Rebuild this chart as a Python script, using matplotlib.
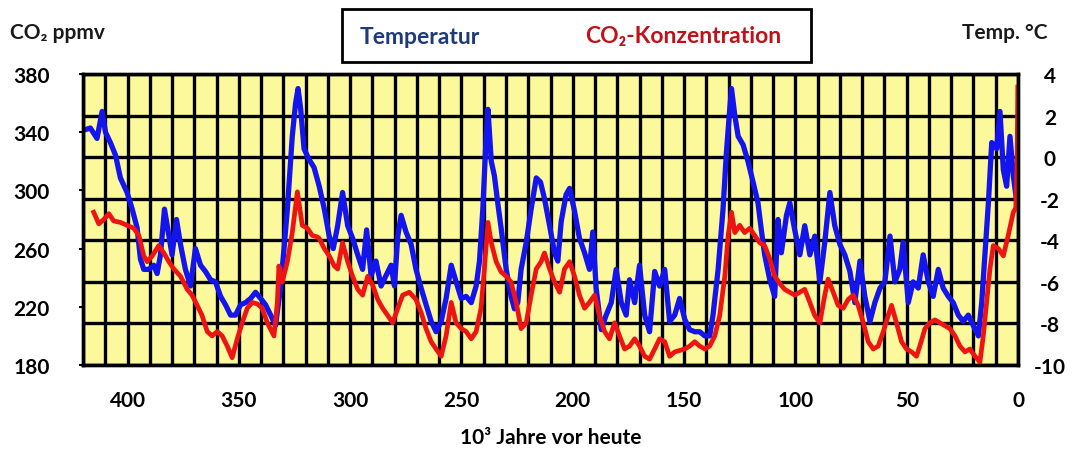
import matplotlib
matplotlib.use("Agg")
import matplotlib.pyplot as plt
from matplotlib.ticker import MultipleLocator
from matplotlib.patches import Rectangle

# ---- data ----
age_temp = [419.7, 416.7, 413.7, 411.4, 409.9, 407.7, 405.4, 403.2, 400.2, 397.9,
            395.7, 394.2, 392.7, 390.4, 388.2, 386.7, 385.2, 383.4, 381.4, 380.0,
            378.0, 376.2, 374.0, 371.7, 369.5, 367.2, 365.0, 362.7, 360.5, 358.2,
            356.0, 353.7, 351.5, 349.2, 347.0, 344.7, 342.5, 340.2, 338.0, 335.7,
            333.5, 331.2, 329.7, 328.2, 326.0, 324.5, 323.4, 322.2, 320.7, 318.5,
            316.2, 313.9, 311.6, 309.4, 307.6, 305.6, 303.4, 301.1, 298.9, 296.6,
            294.4, 292.6, 290.6, 288.4, 286.1, 283.9, 281.6, 280.1, 278.6, 277.1,
            274.9, 272.6, 270.4, 268.1, 265.9, 263.6, 261.4, 259.1, 256.9, 254.6,
            252.4, 250.1, 247.9, 245.6, 243.4, 241.9, 240.4, 238.9, 238.1, 236.6,
            235.2, 233.7, 232.2, 229.9, 227.7, 226.2, 224.7, 223.2, 220.9, 218.7,
            216.4, 214.5, 212.7, 210.4, 208.2, 206.7, 205.2, 203.0, 201.4, 199.2,
            197.0, 194.7, 192.5, 191.0, 189.5, 187.2, 185.0, 182.7, 180.5, 178.2,
            176.0, 174.5, 172.2, 170.0, 167.7, 165.5, 163.2, 161.0, 158.7, 156.5,
            154.2, 152.0, 149.7, 147.5, 145.2, 143.0, 140.7, 138.5, 137.0, 134.7,
            132.5, 131.0, 129.5, 128.7, 127.2, 125.7, 123.5, 121.3, 119.0, 116.8,
            115.3, 113.8, 111.5, 109.3, 107.8, 106.3, 104.0, 102.5, 100.3, 98.0,
            95.8, 93.5, 91.3, 89.0, 86.8, 84.5, 82.3, 80.0, 77.8, 75.5,
            73.3, 71.0, 68.8, 66.5, 64.3, 62.0, 59.8, 57.5, 55.3, 53.1,
            51.6, 49.3, 47.1, 44.8, 42.6, 40.3, 38.1, 35.8, 33.6, 31.3,
            29.1, 26.8, 24.6, 22.3, 20.1, 17.8, 16.3, 14.8, 13.3, 11.8,
            9.6, 8.1, 6.6, 5.1, 3.6, 2.1, 0.5]
temperature = [1.3, 1.4, 0.9, 2.2, 1.2, 0.7, 0.1, -1.0, -1.7, -2.5,
               -3.4, -4.9, -5.4, -5.4, -5.2, -5.6, -4.7, -2.5, -3.8, -4.7,
               -3.0, -4.2, -5.4, -6.2, -4.4, -5.2, -5.5, -5.9, -6.0, -6.7,
               -7.1, -7.6, -7.6, -7.1, -7.0, -6.8, -6.5, -6.8, -7.1, -7.6,
               -8.1, -6.2, -4.4, -2.5, 1.0, 2.6, 3.3, 2.3, 0.4, -0.1,
               -0.5, -1.4, -2.5, -3.8, -4.4, -3.3, -1.7, -3.3, -3.9, -4.7,
               -5.4, -3.5, -5.7, -5.0, -6.2, -5.7, -5.2, -6.2, -3.8, -2.8,
               -3.6, -4.2, -5.4, -6.3, -7.1, -7.9, -8.4, -7.9, -6.8, -5.2,
               -6.0, -6.8, -6.7, -7.0, -6.2, -5.0, -2.5, 1.0, 2.3, -0.2,
               -0.9, -2.2, -3.4, -5.4, -6.7, -7.3, -7.0, -5.4, -4.1, -2.5,
               -1.0, -1.2, -2.0, -3.3, -4.6, -5.0, -3.1, -1.8, -1.5, -2.6,
               -3.9, -4.6, -5.4, -3.6, -6.3, -8.3, -7.6, -7.0, -5.4, -7.0,
               -7.6, -5.9, -7.0, -5.2, -7.6, -8.4, -5.5, -6.2, -5.4, -7.9,
               -7.6, -6.8, -7.8, -8.3, -8.4, -8.4, -8.6, -8.6, -7.6, -5.4,
               -2.5, 0.2, 2.3, 3.3, 2.0, 1.0, 0.6, -0.2, -1.2, -2.2,
               -3.5, -4.7, -5.9, -6.7, -3.0, -4.6, -2.8, -2.2, -3.5, -4.7,
               -3.3, -4.7, -3.8, -6.0, -4.1, -1.7, -3.3, -4.2, -4.7, -5.5,
               -7.0, -5.0, -6.7, -7.9, -7.0, -6.3, -6.0, -3.8, -6.0, -5.4,
               -4.1, -7.0, -6.0, -6.3, -4.7, -6.0, -6.7, -5.4, -6.3, -6.7,
               -7.0, -7.6, -7.9, -7.6, -8.1, -8.6, -7.0, -4.6, -2.2, 0.7,
               0.4, 2.2, -0.6, -1.4, 1.0, -0.9, -2.2]

age_co2 = [415.2, 412.9, 410.7, 408.4, 406.2, 403.2, 400.2, 397.2, 394.9, 392.7,
           391.2, 388.9, 386.0, 383.7, 381.4, 379.2, 376.2, 373.2, 371.0, 368.7,
           366.5, 364.2, 362.0, 359.7, 357.5, 355.2, 353.0, 350.7, 348.5, 346.2,
           344.0, 341.7, 339.5, 337.2, 334.2, 332.7, 332.0, 330.5, 328.2, 326.0,
           323.7, 321.5, 319.2, 317.0, 314.7, 313.9, 311.6, 309.4, 307.1, 305.6,
           303.4, 301.1, 298.9, 296.6, 294.4, 292.1, 289.9, 287.6, 285.4, 283.1,
           280.9, 278.6, 276.4, 273.4, 270.4, 268.1, 265.9, 263.6, 261.4, 259.1,
           256.9, 254.6, 252.4, 250.1, 247.9, 245.6, 243.4, 241.2, 239.7, 238.1,
           236.6, 234.4, 232.2, 229.9, 227.7, 225.4, 223.2, 220.9, 218.7, 216.4,
           214.2, 212.7, 210.4, 208.2, 205.9, 203.7, 201.4, 199.2, 197.0, 194.7,
           192.5, 190.2, 188.0, 185.7, 183.5, 181.2, 179.0, 176.7, 174.5, 172.2,
           170.0, 167.7, 165.5, 163.2, 161.0, 158.7, 156.5, 154.2, 152.0, 149.7,
           147.5, 145.2, 143.0, 140.7, 138.5, 136.2, 134.0, 131.7, 130.2, 128.7,
           127.2, 125.0, 122.8, 120.5, 118.3, 116.0, 113.8, 111.5, 109.3, 107.0,
           104.8, 102.5, 100.3, 98.0, 95.8, 93.5, 91.3, 89.0, 86.8, 85.3,
           83.0, 80.8, 78.5, 76.3, 74.0, 71.8, 69.5, 67.3, 65.0, 62.8,
           60.5, 58.3, 56.8, 54.6, 52.3, 50.1, 47.8, 45.6, 44.1, 41.8,
           39.6, 37.3, 35.1, 32.8, 30.6, 28.3, 26.1, 23.8, 21.6, 19.3,
           17.1, 15.6, 14.1, 12.6, 11.1, 8.8, 6.6, 4.4, 2.1, 1.0,
           0.4, 0.1]
co2 = [285, 277, 280, 284, 279, 278, 276, 274, 269, 255,
       251, 255, 262, 257, 251, 246, 241, 232, 228, 221,
       214, 203, 200, 203, 200, 193, 185, 198, 209, 219,
       223, 222, 219, 209, 200, 223, 248, 237, 251, 271,
       299, 276, 274, 269, 268, 267, 260, 255, 248, 246,
       264, 251, 241, 232, 228, 241, 235, 225, 219, 214,
       209, 219, 228, 230, 225, 216, 205, 196, 191, 186,
       200, 223, 209, 205, 203, 198, 203, 219, 246, 278,
       264, 251, 244, 241, 237, 223, 205, 209, 228, 246,
       251, 257, 246, 237, 230, 246, 251, 241, 228, 219,
       223, 228, 214, 203, 198, 209, 200, 191, 193, 198,
       193, 186, 184, 191, 198, 196, 186, 189, 190, 191,
       193, 196, 193, 191, 193, 200, 214, 241, 269, 285,
       271, 276, 271, 274, 269, 264, 262, 253, 241, 236,
       232, 230, 228, 230, 232, 223, 214, 209, 228, 239,
       230, 221, 219, 225, 228, 221, 209, 196, 191, 193,
       203, 214, 221, 209, 196, 191, 189, 186, 193, 205,
       209, 211, 209, 207, 205, 200, 193, 189, 191, 186,
       182, 200, 223, 246, 262, 260, 255, 269, 285, 288,
       320, 371]

co2_ticks = [180, 220, 260, 300, 340, 380]
temp_ticks = [-10, -8, -6, -4, -2, 0, 2, 4]
age_ticks = [400, 350, 300, 250, 200, 150, 100, 50, 0]

FAM = ['Lato', 'DejaVu Sans']
plt.rcParams['font.family'] = FAM
plt.rcParams['axes.unicode_minus'] = False

BLUE = '#1414EE'
RED = '#EE1414'
YELLOW = '#FCF99C'

fig = plt.figure(figsize=(10.74, 4.52), dpi=100)
W, H = 1074, 452
L, R, T, B = 83, 1018, 75, 366
ax = fig.add_axes([L / W, 1 - B / H, (R - L) / W, (B - T) / H])
axc = ax.twinx()

# temperature axis (right)
ax.set_facecolor(YELLOW)
ax.set_xlim(420, 0)
ax.set_ylim(-10, 4)
ax.yaxis.tick_right()
ax.yaxis.set_label_position('right')
ax.set_yticks(temp_ticks)
ax.set_xticks(age_ticks)
ax.xaxis.set_minor_locator(MultipleLocator(10))
ax.set_axisbelow(True)
ax.grid(which='both', color='black', linewidth=2.4)
ax.plot(age_temp, temperature, color=BLUE, linewidth=3.8, solid_joinstyle='round')
ax.tick_params(axis='x', which='both', length=0, pad=18, labelsize=15)
ax.tick_params(axis='y', which='both', length=0, pad=23, labelsize=15,
               left=False, labelleft=False, right=True, labelright=True)
for lab in ax.get_yticklabels():
    lab.set_horizontalalignment('center')
    lab.set_fontweight('bold')
for lab in ax.get_xticklabels():
    lab.set_fontweight('bold')
for s in ax.spines.values():
    s.set_linewidth(2.4)
    s.set_color('black')

# CO2 axis (left)
axc.set_ylim(180, 380)
axc.yaxis.tick_left()
axc.set_yticks(co2_ticks)
axc.tick_params(axis='y', length=3, width=1.5, pad=21, labelsize=15,
                right=False, labelright=False, left=True, labelleft=True)
for lab in axc.get_yticklabels():
    lab.set_fontweight('bold')
for s in axc.spines.values():
    s.set_linewidth(2.4)
    s.set_color('black')
axc.plot(age_co2, co2, color=RED, linewidth=3.4, solid_joinstyle='round')

ax.set_xlabel('10³ Jahre vor heute', fontsize=15, fontweight='bold', labelpad=12)

txtc = '#1a1a1a'
fig.text(10 / W, 1 - 33 / H, 'CO₂ ppmv', fontsize=15, fontweight='bold',
         ha='left', va='center', color=txtc)
fig.text(962 / W, 1 - 33 / H, 'Temp. °C', fontsize=15, fontweight='bold',
         ha='left', va='center', color=txtc)

box = Rectangle((342 / W, 1 - 63 / H), (811 - 342) / W, 53 / H,
                transform=fig.transFigure, facecolor='white',
                edgecolor='black', linewidth=2.0)
fig.patches.append(box)
fig.text(360 / W, 1 - 37 / H, 'Temperatur', fontsize=16.5, fontweight='bold',
         ha='left', va='center', color='#1F3A7A')
fig.text(585 / W, 1 - 37 / H, 'CO₂-Konzentration', fontsize=16.5, fontweight='bold',
         ha='left', va='center', color='#C0101A')

fig.savefig('out.png', dpi=100)
